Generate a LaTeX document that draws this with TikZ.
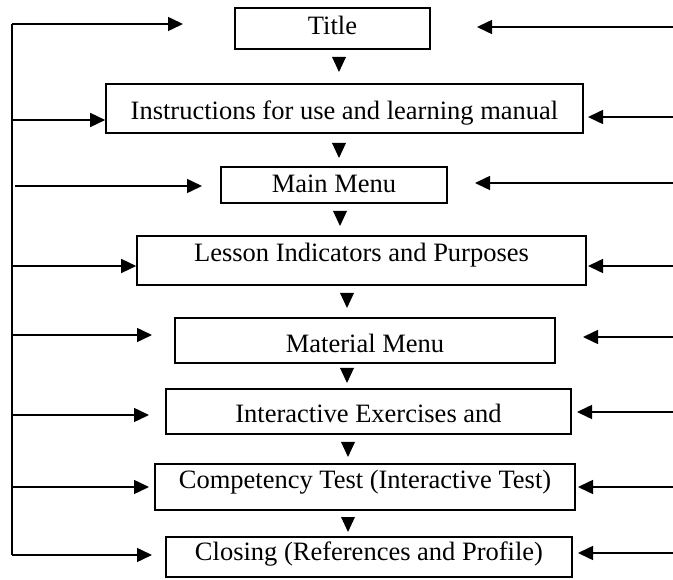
\documentclass[tikz,border=0pt]{standalone}
\usepackage{fontspec}
\setmainfont{Liberation Serif}
\usetikzlibrary{arrows.meta}
\tikzset{
  box/.style={draw, line width=1.6pt, inner sep=0pt, align=center},
  arr/.style={line width=1.5pt, -{Triangle[length=15pt,width=14pt]}},
  ln/.style={line width=1.5pt},
}
\newcommand{\downtri}[3]{\fill (#1-7,#2) -- (#1+7,#2) -- (#1,#2+15) -- cycle; \coordinate (#3) at (#1,#2);}
\begin{document}
\begin{tikzpicture}[x=1pt,y=-1pt]
\useasboundingbox (0,0) rectangle (673,580);
\fontsize{26.5}{30}\selectfont
% boxes
\node[box, minimum width=195pt, text height=27pt, text depth=14pt] (t) at (332.5,28.5) {Title};
\node[box, minimum width=477pt, text height=36pt, text depth=13pt] (i) at (344.5,108.5) {Instructions for use and learning manual};
\node[box, minimum width=226pt, text height=26pt, text depth=10pt] (m) at (334,185) {Main Menu};
\node[box, minimum width=449pt, text height=26pt, text depth=23pt] (l) at (361.5,260.5) {Lesson Indicators and Purposes};
\node[box, minimum width=380pt, text height=35pt, text depth=10pt] (mm) at (365,340.5) {Material Menu};
\node[box, minimum width=405pt, text height=34pt, text depth=11pt] (ie) at (368.5,411.5) {Interactive Exercises and};
\node[box, minimum width=420pt, text height=24pt, text depth=22pt] (ct) at (365,487) {Competency Test (Interactive Test)};
\node[box, minimum width=406pt, text height=23pt, text depth=17pt] (cl) at (369,557) {Closing (References and Profile)};
% down arrowheads
\downtri{339}{57}{d1}
\downtri{339}{143}{d2}
\downtri{340}{211}{d3}
\downtri{347}{293}{d4}
\downtri{347}{368}{d5}
\downtri{348}{442}{d6}
\downtri{348}{517}{d7}
% left bar
\coordinate (btop) at (12,24);
\coordinate (bbot) at (12,555);
\draw[ln] (btop) -- (bbot);
\coordinate (a1) at (12,24);   \coordinate (e1) at (183,24);
\coordinate (a2) at (12,120);
\coordinate (a3) at (15,186);  \coordinate (e3) at (202,186);
\coordinate (a4) at (12,266);
\coordinate (a5) at (12,335);  \coordinate (e5) at (152,335);
\coordinate (a6) at (12,415);  \coordinate (e6) at (149,415);
\coordinate (a7) at (12,487);  \coordinate (e7) at (149,487);
\coordinate (a8) at (12,555);  \coordinate (e8) at (152,555);
\draw[arr] (a1) -- (e1);
\draw[arr] (a2) -- (a2 -| i.west);
\draw[arr] (a3) -- (e3);
\draw[arr] (a4) -- (a4 -| l.west);
\draw[arr] (a5) -- (e5);
\draw[arr] (a6) -- (e6);
\draw[arr] (a7) -- (e7);
\draw[arr] (a8) -- (e8);
% right arrows
\coordinate (r1) at (673,27);  \coordinate (f1) at (477,27);
\coordinate (r2) at (673,117); \coordinate (f2) at (588,117);
\coordinate (r3) at (673,183); \coordinate (f3) at (475,183);
\coordinate (r4) at (673,266); \coordinate (f4) at (588,266);
\coordinate (r5) at (673,337); \coordinate (f5) at (583,337);
\coordinate (r6) at (673,412); \coordinate (f6) at (577,412);
\coordinate (r7) at (673,487); \coordinate (f7) at (578,487);
\coordinate (r8) at (673,553); \coordinate (f8) at (578,553);
\foreach \k in {1,...,8} {\draw[arr] (r\k) -- (f\k);}
\end{tikzpicture}
\end{document}
